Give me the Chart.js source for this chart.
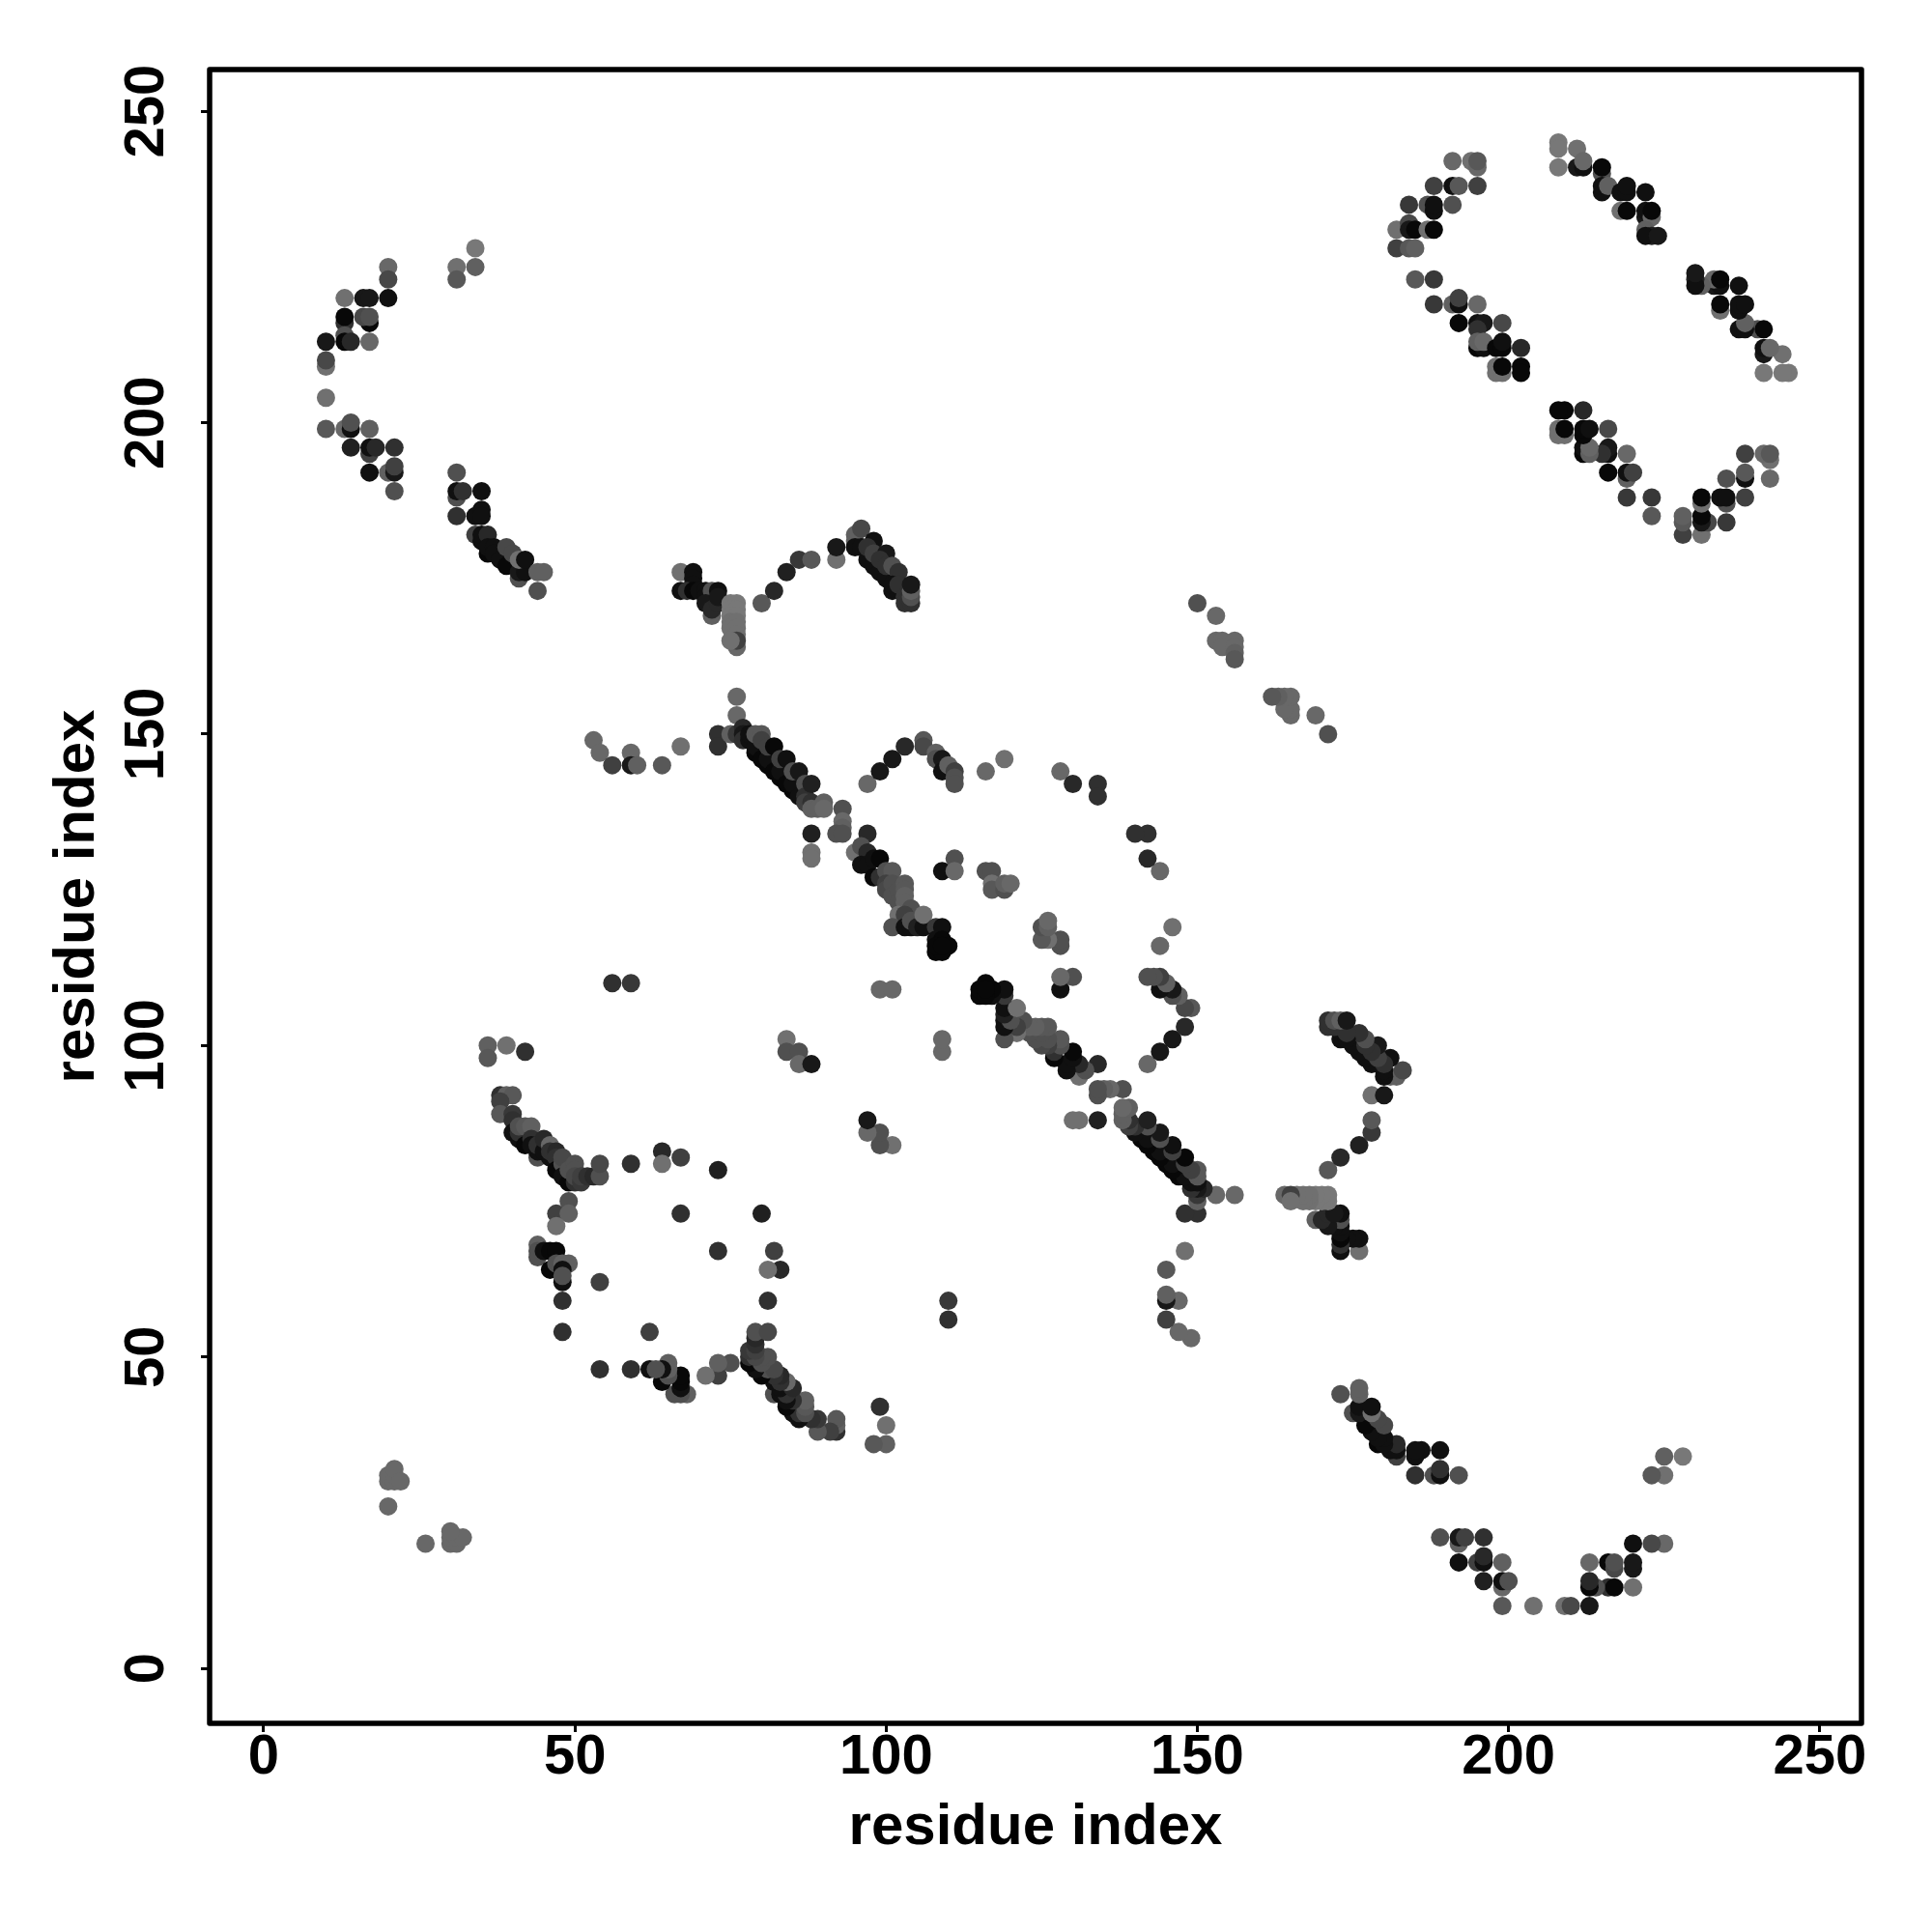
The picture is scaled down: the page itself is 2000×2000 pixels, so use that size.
<!DOCTYPE html>
<html><head><meta charset="utf-8">
<style>html,body{margin:0;padding:0;background:#fff}canvas{display:block}</style>
<script src="https://cdn.jsdelivr.net/npm/chart.js@4"></script>
</head><body><canvas id="c" width="2000" height="2000"></canvas>
<script>
// Each row: residue i, residue j (i<j), contact level (0 dark .. 15 light). The map is symmetric.
const tickValues = [0,50,100,150,200,250];
const axisTitle = "residue index";
const arcOuter = [[34,228,15],[31,225,14],[34,225,12],[31,223,11],[20,225,13],[20,223,9],[13,220,14],[16,220,3],[17,220,3],[20,220,2],[17,216,1],[13,216,6],[13,217,1],[16,217,9],[17,217,10],[13,214,10],[13,213,1],[14,213,5],[17,213,13],[10,213,3],[10,209,14],[10,210,9],[10,204,14],[10,199,11],[13,199,13],[14,199,2],[14,200,10],[17,199,12],[14,196,4],[17,195,8],[17,196,2],[18,196,5],[21,196,6],[17,192,2],[20,192,12],[21,192,3],[21,193,8],[21,189,10]];
const arcInner = [[31,192,10],[31,188,10],[31,189,2],[32,189,6],[35,189,2],[31,185,6],[34,185,2],[35,186,2],[35,185,2],[34,182,8],[35,181,2],[35,182,2],[36,182,5],[36,179,1],[36,180,2],[37,180,2],[37,179,2],[38,178,2],[39,177,1],[39,180,9],[40,179,9],[41,175,10],[41,176,3],[42,176,2],[41,178,14],[42,178,2],[44,176,12],[45,176,12],[44,173,10]];
const sheetLeft = [[191,242,13],[194,242,14],[195,241,13],[195,242,11],[188,238,8],[191,238,2],[192,238,11],[195,238,8],[184,235,7],[187,235,10],[188,234,2],[188,235,2],[191,235,10],[182,231,14],[184,232,9],[184,231,3],[185,231,1],[187,231,14],[188,231,1],[182,228,8],[184,228,11],[185,228,12],[185,223,11],[188,223,7],[188,219,7],[191,219,12],[192,219,2],[192,220,8],[195,219,13],[192,216,1],[195,216,2],[196,216,3],[199,216,9],[195,215,6],[195,212,1],[196,212,2],[195,213,12],[196,213,13],[198,212,1],[199,212,1],[199,213,2],[202,212,5],[198,209,14],[198,208,14],[199,208,14],[199,209,1],[202,209,1],[202,208,1]];
const sheetRight = [[208,245,15],[208,244,15],[208,241,15],[211,244,14],[211,241,3],[212,241,2],[212,242,13],[215,240,10],[215,241,1],[215,237,2],[215,238,2],[216,238,12],[218,237,2],[219,237,2],[219,238,2],[222,237,2],[218,234,14],[219,234,1],[222,233,3],[222,234,2],[223,233,13],[223,234,1],[222,231,12],[223,230,4],[222,230,2],[224,230,3]];
const bandUpper = [[67,176,14],[69,176,2],[69,175,2],[69,174,2],[67,173,2],[68,173,6],[69,173,1],[70,173,2],[71,173,2],[71,172,2],[72,173,10],[73,173,2],[71,171,3],[72,169,12],[72,170,5],[73,171,5],[73,172,3],[75,171,15],[76,171,15],[75,170,15],[76,170,15],[75,169,15],[76,169,15],[75,168,14],[76,168,14],[75,167,14],[76,167,14],[76,166,14],[76,164,13],[76,165,8],[75,165,14],[80,171,11],[82,173,5],[84,176,4],[86,178,7],[88,178,11],[92,178,14],[92,180,3],[95,182,12],[95,181,12],[95,180,2],[96,180,2],[96,183,9],[98,181,2],[97,178,2],[97,180,6],[98,177,2],[98,179,8],[100,179,3],[99,176,2],[99,178,6],[100,175,2],[100,177,6],[101,177,10],[102,176,6],[101,173,2],[101,174,2],[102,174,6],[103,172,6],[103,171,6],[104,171,6],[104,172,10],[104,173,12],[104,174,3]];
const bandMiddle = [[53,149,13],[54,147,13],[56,145,8],[59,147,13],[59,145,3],[60,145,12],[64,145,11],[67,148,14],[76,156,13],[76,153,13],[73,150,6],[73,148,6],[75,150,12],[76,150,7],[77,151,5],[77,150,3],[77,149,6],[78,149,2],[78,150,2],[79,147,1],[79,148,2],[80,146,1],[79,150,11],[80,150,11],[80,149,8],[81,145,1],[81,146,2],[81,148,8],[82,148,1],[82,144,1],[83,143,1],[83,144,2],[83,146,8],[84,146,2],[84,142,1],[85,141,1],[85,142,2],[85,144,10],[86,144,3],[86,140,2],[87,142,10],[87,140,6],[87,139,8],[88,142,4],[88,139,6],[88,138,12],[89,138,12],[90,139,12],[90,138,13],[93,138,10],[93,136,13],[93,135,12],[92,134,10],[93,134,10],[88,134,4],[88,131,14],[88,130,14],[97,134,5]];
const bandCentre = [[95,131,14],[96,132,10],[97,131,5],[96,129,2],[97,129,2],[98,130,2],[99,130,1],[98,127,1],[99,127,6],[100,128,10],[101,128,11],[100,126,8],[100,125,9],[101,126,10],[101,124,10],[102,125,10],[103,126,11],[103,125,11],[102,123,10],[103,124,12],[103,123,12],[104,122,10],[102,121,14],[103,121,8],[101,119,10],[103,119,2],[104,119,2],[105,120,12],[104,120,10],[105,119,4],[106,119,2],[106,121,14],[108,119,7],[109,119,2],[108,117,2],[109,117,1],[110,116,1],[108,115,1],[109,115,1],[108,116,1],[109,116,1]];
const arcCentre = [[97,142,13],[99,144,3],[101,146,3],[103,148,5],[106,149,11],[106,148,9],[108,147,12],[108,146,10],[109,146,3],[109,144,2],[110,145,12],[111,144,8],[111,143,10],[111,142,10],[116,144,13],[119,146,14],[128,144,13],[130,142,5],[134,142,6],[134,140,6]];
const scattered = [[109,128,2],[111,130,10],[111,128,13],[116,128,10],[117,128,10],[117,126,14],[117,125,11],[119,125,10],[119,126,12],[120,126,13],[99,109,13],[101,109,13],[56,110,6],[59,110,7],[84,101,14],[84,99,10],[86,99,10],[86,97,13],[88,97,3],[150,171,10],[153,169,13],[153,165,13],[154,165,13],[154,164,13],[156,165,13],[156,164,13],[156,163,12],[156,162,11],[20,26,13],[20,30,13],[20,31,13],[21,30,13],[21,31,13],[21,32,13],[22,30,13]];
const bandLower = [[36,100,12],[36,98,11],[39,100,14],[42,99,6],[38,92,6],[39,92,12],[40,92,11],[38,91,8],[38,89,11],[40,89,7],[40,88,6],[40,86,2],[41,85,2],[41,86,6],[41,87,10],[42,87,11],[43,87,12],[42,84,1],[43,85,6],[44,82,10],[43,84,2],[44,83,2],[44,84,6],[45,83,2],[45,85,5],[46,82,2],[46,84,13],[46,83,6],[47,83,5],[47,82,6],[47,80,1],[48,81,10],[48,82,9],[48,79,2],[49,78,1],[49,80,10],[50,78,6],[50,81,10],[50,80,10],[50,79,9],[51,78,7],[51,79,8],[52,79,6],[53,79,5],[54,79,10],[54,81,9],[59,81,6],[64,83,5],[64,81,14],[67,82,8],[73,80,4]];
const knot = [[49,75,10],[47,73,8],[49,73,12],[47,71,14],[67,73,6],[44,68,12],[44,67,10],[44,66,10],[45,67,2],[46,67,1],[47,67,1],[46,64,1],[47,65,10],[48,65,12],[49,65,12],[48,64,2],[48,62,2],[48,63,10],[48,59,6],[54,62,8],[48,54,6]];

const regions = [arcOuter, arcInner, sheetLeft, sheetRight, bandUpper, bandMiddle, bandCentre, arcCentre, scattered, bandLower, knot];
const points = [], fills = [];
for (const rows of regions) for (const [i, j, level] of rows) {
  const g = level * 8, col = `rgb(${g},${g},${g})`;
  points.push({x:i, y:j}); fills.push(col);
  points.push({x:j, y:i}); fills.push(col);
}
const frame = {id:'frame', afterDraw(ch){
  const a = ch.chartArea, c = ch.ctx;
  c.save(); c.strokeStyle='#000'; c.lineWidth=5.5; c.lineJoin='round';
  c.strokeRect(a.left,a.top,a.right-a.left,a.bottom-a.top); c.restore();
}};
const tickFont = {family:'"Liberation Sans"', weight:'bold', size:58};
const titleFont = {family:'"Liberation Sans"', weight:'bold', size:60};
const setTicks = s => { s.ticks = tickValues.map(v=>({value:v})); };
new Chart(document.getElementById('c'), {
  type:'scatter',
  data:{datasets:[{data:points, pointBackgroundColor:fills, pointBorderWidth:0, pointRadius:9.5, showLine:false}]},
  plugins:[frame],
  options:{
    responsive:false, animation:false,
    layout:{padding:{left:0,right:73,top:72,bottom:0}},
    plugins:{legend:{display:false},tooltip:{enabled:false}},
    scales:{
      x:{type:'linear',min:-8.69,max:256.7,afterBuildTicks:setTicks,
        afterFit:s=>{s.height=216;},
        border:{display:false},
        grid:{drawOnChartArea:false,drawTicks:true,tickLength:9,tickWidth:3,tickColor:'#000'},
        ticks:{autoSkip:false,maxRotation:0,minRotation:0,padding:-8,color:'#000',font:tickFont,callback:v=>String(v)},
        title:{display:true,text:axisTitle,color:'#000',font:titleFont,padding:{top:0,bottom:71.5}}},
      y:{type:'linear',min:-8.84,max:256.7,afterBuildTicks:setTicks,
        afterFit:s=>{s.width=217;},
        border:{display:false},
        grid:{drawOnChartArea:false,drawTicks:true,tickLength:9,tickWidth:3,tickColor:'#000'},
        ticks:{autoSkip:false,minRotation:90,maxRotation:90,crossAlign:'center',padding:6.5,color:'#000',font:tickFont,callback:v=>String(v)},
        title:{display:true,text:axisTitle,color:'#000',font:titleFont,padding:{top:44,bottom:0}}}
    }
  }
});
</script></body></html>
